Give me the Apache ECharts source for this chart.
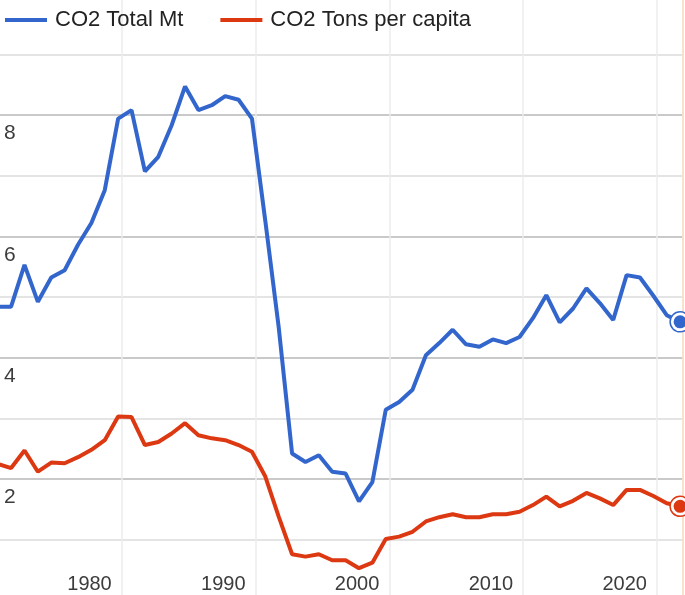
<!DOCTYPE html>
<html>
<head>
<meta charset="utf-8">
<script src="https://cdn.jsdelivr.net/npm/echarts@6/dist/echarts.min.js"></script>
<style>
html,body{margin:0;padding:0;background:#fff;}
#chart{width:685px;height:595px;}
</style>
</head>
<body>
<div id="chart"></div>
<script>
const years = [1973,1974,1975,1976,1977,1978,1979,1980,1981,1982,1983,1984,1985,1986,1987,1988,1989,
  1990,1991,1992,1993,1994,1995,1996,1997,1998,1999,2000,2001,2002,2003,2004,2005,2006,2007,2008,2009,
  2010,2011,2012,2013,2014,2015,2016,2017,2018,2019,2020,2021,2022,2023,2024];
const co2Total = [4.84,4.84,5.53,4.92,5.32,5.44,5.86,6.22,6.76,7.94,8.08,7.07,7.31,7.83,8.47,8.08,8.16,
  8.31,8.25,7.94,6.25,4.5,2.42,2.28,2.39,2.12,2.09,1.63,1.95,3.14,3.27,3.47,4.04,4.24,4.46,4.22,4.18,
  4.30,4.24,4.34,4.65,5.03,4.58,4.81,5.14,4.90,4.62,5.36,5.32,5.02,4.70,4.59];
const co2PerCapita = [2.25,2.18,2.47,2.12,2.27,2.26,2.36,2.48,2.64,3.03,3.02,2.56,2.61,2.75,2.92,2.72,2.67,
  2.64,2.56,2.45,2.04,1.38,0.76,0.72,0.76,0.66,0.66,0.53,0.62,1.01,1.05,1.13,1.30,1.37,1.42,1.37,1.37,
  1.42,1.42,1.46,1.57,1.71,1.55,1.64,1.77,1.68,1.57,1.82,1.82,1.72,1.60,1.55];
const seriesNames = ['CO2 Total Mt', 'CO2 Tons per capita'];
const xTickYears = [1980, 1990, 2000, 2010, 2020];

const BLUE = '#3366cc', RED = '#dc3912';
const FONT = '"Liberation Sans", Arial, sans-serif';
const last = years.length - 1;
const PX_PER_YEAR = 13.38;

function endMarks(vals, color) {
  const c = [years[last], vals[last]];
  return {
    silent: true,
    label: {show: false},
    animation: false,
    data: [
      {coord: c, symbol: 'circle', symbolSize: 20, itemStyle: {color: '#fff', borderColor: color, borderWidth: 1.5}},
      {coord: c, symbol: 'circle', symbolSize: 13, itemStyle: {color: color}}
    ]
  };
}

const chart = echarts.init(document.getElementById('chart'), null, {renderer: 'canvas'});
chart.setOption({
  backgroundColor: '#fff',
  animation: false,
  textStyle: {fontFamily: FONT},
  legend: {
    left: 0, top: 4,
    icon: 'rect', itemWidth: 42, itemHeight: 4, itemGap: 37,
    textStyle: {fontSize: 22, color: '#222', fontFamily: FONT, padding: [0, 0, 0, 3]},
    data: seriesNames
  },
  grid: [
    // data grid
    {left: 0, right: 0, top: 39.1, bottom: 25},
    // horizontal gridlines + y labels
    {left: 0, right: 2, top: 54.3, bottom: 55.4},
    // vertical gridlines
    {left: 121.7, right: 2, top: 0, bottom: 0},
    // x labels
    {left: 89.5, right: 0, top: 39.1, bottom: 25}
  ],
  xAxis: [
    {gridIndex: 0, type: 'value', min: 1973.17, max: 1973.17 + 685 / PX_PER_YEAR, show: false},
    {gridIndex: 1, type: 'value', min: 0, max: 1, show: false},
    {gridIndex: 2, type: 'value', min: 0, max: (685 - 2 - 121.7) / PX_PER_YEAR, interval: 10,
     axisLine: {show: false}, axisTick: {show: false}, axisLabel: {show: false},
     splitLine: {show: true, lineStyle: {color: '#ececec', width: 1.5}}},
    {gridIndex: 3, type: 'value', min: 1980, max: 1980 + (685 - 89.5) / PX_PER_YEAR, interval: 10,
     axisLine: {show: false}, axisTick: {show: false}, splitLine: {show: false},
     axisLabel: {fontSize: 20, color: '#3c3c3c', margin: 4, fontFamily: FONT, showMaxLabel: false,
       formatter: v => xTickYears.indexOf(v) >= 0 ? String(v) : ''}}
  ],
  yAxis: [
    {gridIndex: 0, type: 'value', min: 0.5, max: 9.25, show: false},
    {gridIndex: 1, type: 'value', min: 1, max: 9, interval: 1,
     axisLine: {show: false}, axisTick: {show: false},
     splitLine: {show: true, lineStyle: {color: ['#e4e4e4', '#c9c9c9'], width: 2}},
     axisLabel: {inside: true, margin: 4, fontSize: 21, color: '#3c3c3c', fontFamily: FONT,
       verticalAlign: 'top', padding: [8, 0, 0, 0],
       formatter: v => (v % 2 === 0 ? String(v) : '')}},
    {gridIndex: 2, type: 'value', min: 0, max: 1, position: 'right',
     axisLine: {show: true, onZero: false, lineStyle: {color: '#f8dcc0', width: 1.5}},
     axisTick: {show: false}, axisLabel: {show: false}, splitLine: {show: false}},
    {gridIndex: 3, type: 'value', min: 0, max: 1, show: false}
  ],
  series: [
    {name: seriesNames[0], type: 'line', xAxisIndex: 0, yAxisIndex: 0,
     data: years.map((y, i) => [y, co2Total[i]]),
     symbol: 'none', color: BLUE, lineStyle: {color: BLUE, width: 4}, z: 3,
     markPoint: endMarks(co2Total, BLUE)},
    {name: seriesNames[1], type: 'line', xAxisIndex: 0, yAxisIndex: 0,
     data: years.map((y, i) => [y, co2PerCapita[i]]),
     symbol: 'none', color: RED, lineStyle: {color: RED, width: 4}, z: 3,
     markPoint: endMarks(co2PerCapita, RED)}
  ]
});
</script>
</body>
</html>
